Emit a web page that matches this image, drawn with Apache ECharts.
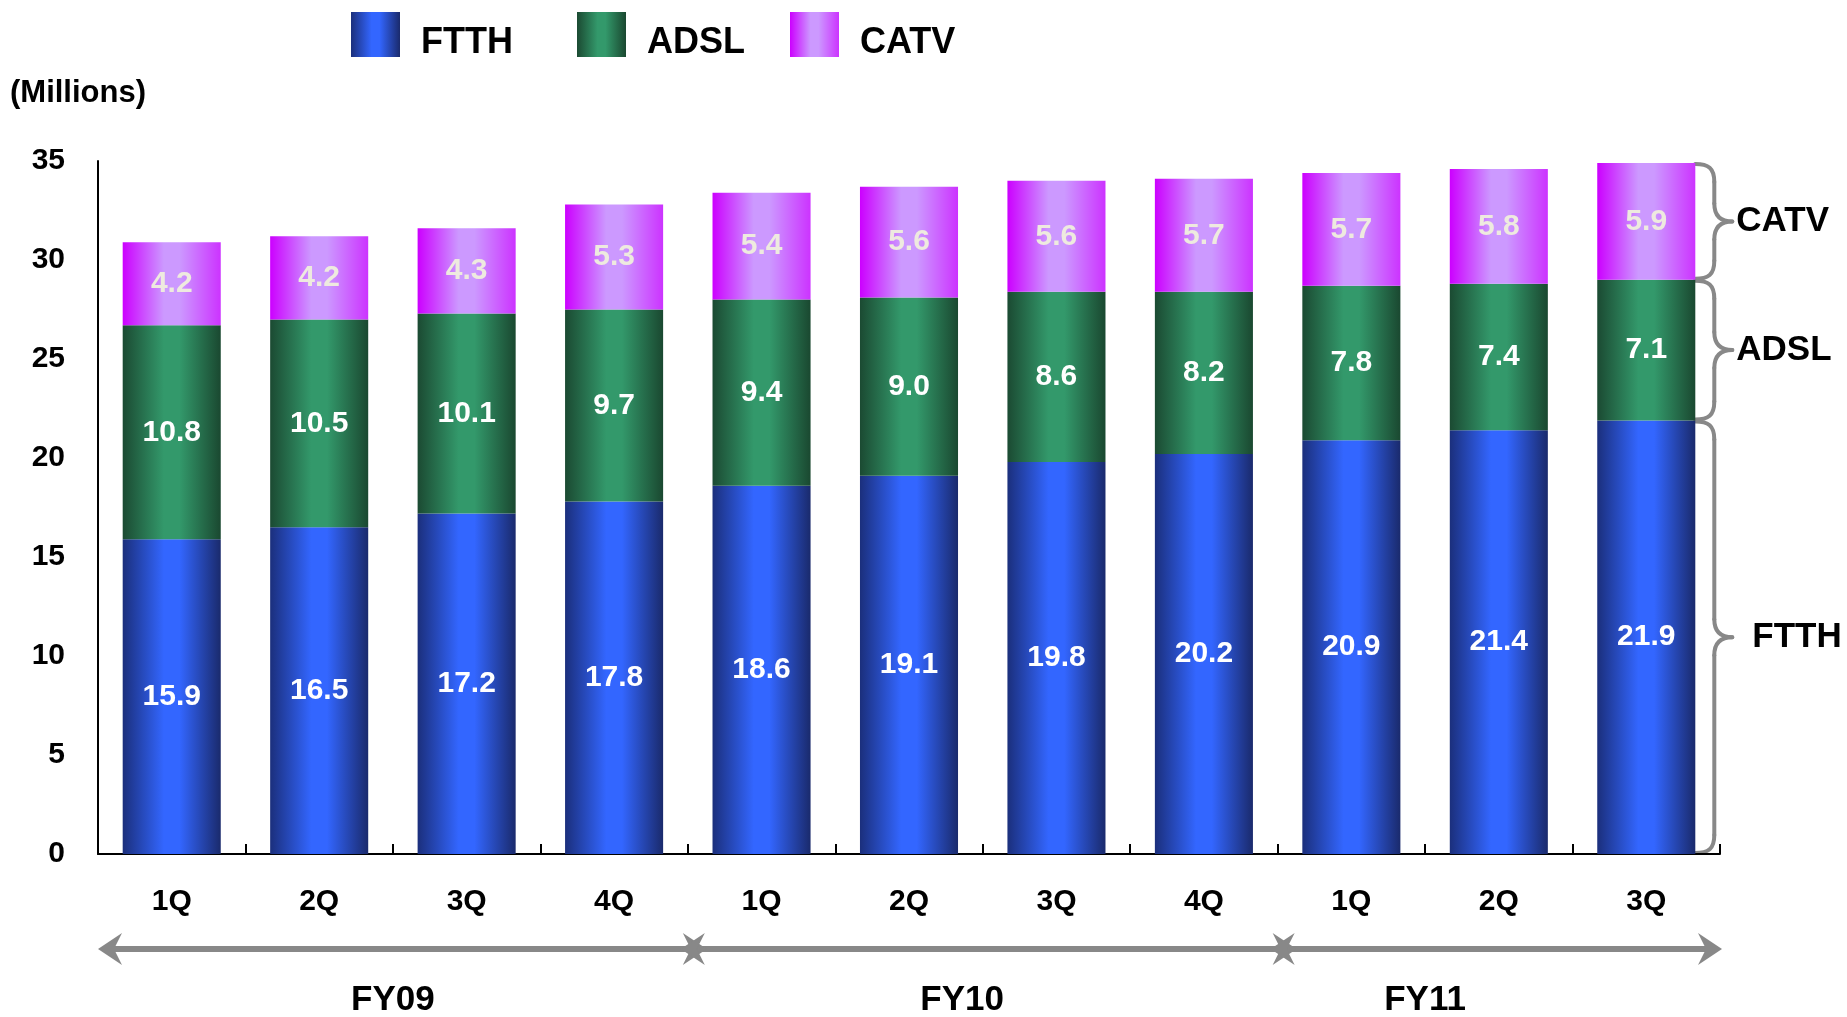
<!DOCTYPE html>
<html>
<head>
<meta charset="utf-8">
<title>Broadband subscribers by access type</title>
<script src="https://cdn.jsdelivr.net/npm/echarts@6/dist/echarts.min.js"></script>
<style>
  html, body { margin: 0; padding: 0; background: #fff; }
  #chart { width: 1847px; height: 1017px; }
</style>
</head>
<body>
<div id="chart"></div>
<script>
// Quarterly subscribers, millions
const quarters = ['1Q', '2Q', '3Q', '4Q', '1Q', '2Q', '3Q', '4Q', '1Q', '2Q', '3Q'];
const ftth = [15.9, 16.5, 17.2, 17.8, 18.6, 19.1, 19.8, 20.2, 20.9, 21.4, 21.9];
const adsl = [10.8, 10.5, 10.1, 9.7, 9.4, 9.0, 8.6, 8.2, 7.8, 7.4, 7.1];
const catv = [4.2, 4.2, 4.3, 5.3, 5.4, 5.6, 5.6, 5.7, 5.7, 5.8, 5.9];
// Fiscal years: name, first quarter index, number of quarters
const fiscalYears = ['FY09', 'FY10', 'FY11'];
const fyStart = [0, 4, 8];
const fyCount = [4, 4, 3];
const yTicks = [0, 5, 10, 15, 20, 25, 30, 35];

const FONT = '"Liberation Sans", Arial, Helvetica, sans-serif';
const GRAY = '#888888';

function barGradient(edgeL, mid, edgeR) {
  return {
    type: 'linear', x: 0, y: 0, x2: 1, y2: 0,
    colorStops: [
      { offset: 0, color: edgeL },
      { offset: 0.42, color: mid },
      { offset: 0.58, color: mid },
      { offset: 1, color: edgeR }
    ]
  };
}
const ftthFill = barGradient('#1b2f7c', '#3366ff', '#1a2a6c');
const adslFill = barGradient('#1b4a32', '#33996b', '#1a4830');
const catvFill = barGradient('#cc00ff', '#cc99ff', '#cc33ff');

const chart = echarts.init(document.getElementById('chart'), null, { renderer: 'canvas' });

function labelCfg(color) {
  return {
    show: true,
    position: 'inside',
    color: color,
    fontFamily: FONT,
    fontSize: 30,
    fontWeight: 'bold',
    formatter: p => p.value.toFixed(1)
  };
}

function legendCfg(name, left) {
  return {
    data: [name],
    left: left,
    top: 12,
    padding: 0,
    icon: 'rect',
    itemWidth: 49,
    itemHeight: 45,
    selectedMode: false,
    formatter: n => '{t|' + n + '}',
    textStyle: {
      fontFamily: FONT, fontSize: 36, fontWeight: 'bold', color: '#000',
      rich: {
        t: { fontFamily: FONT, fontSize: 36, fontWeight: 'bold', color: '#000',
             padding: [18, 0, 0, 16] }
      }
    }
  };
}

chart.setOption({
  animation: false,
  backgroundColor: '#fff',
  legend: [legendCfg('FTTH', 351), legendCfg('ADSL', 577), legendCfg('CATV', 790)],
  grid: { left: 98, right: 127, top: 161, bottom: 163 },
  xAxis: {
    type: 'category',
    data: quarters,
    axisLine: { lineStyle: { color: '#000', width: 2 } },
    axisTick: { show: true, inside: true, length: 10, lineStyle: { color: '#000', width: 2 } },
    axisLabel: { margin: 33, fontFamily: FONT, fontSize: 30, fontWeight: 'bold', color: '#000' },
    splitLine: { show: false }
  },
  yAxis: {
    type: 'value',
    min: yTicks[0],
    max: yTicks[yTicks.length - 1],
    interval: yTicks[1] - yTicks[0],
    axisLine: { show: true, lineStyle: { color: '#000', width: 2 } },
    axisTick: { show: false },
    axisLabel: { margin: 33, fontFamily: FONT, fontSize: 30, fontWeight: 'bold', color: '#000' },
    splitLine: { show: false }
  },
  series: [
    { name: 'FTTH', type: 'bar', stack: 'total', data: ftth, barCategoryGap: '33.5%',
      itemStyle: { color: ftthFill }, label: labelCfg('#ffffff') },
    { name: 'ADSL', type: 'bar', stack: 'total', data: adsl,
      itemStyle: { color: adslFill }, label: labelCfg('#ffffff') },
    { name: 'CATV', type: 'bar', stack: 'total', data: catv,
      itemStyle: { color: catvFill }, label: labelCfg('#eeeadf') }
  ]
});

// Annotations placed from the axis scales: unit label, brace callouts, fiscal-year arrows
const px = i => chart.convertToPixel({ xAxisIndex: 0 }, i);
const py = v => chart.convertToPixel({ yAxisIndex: 0 }, v);
const step = px(1) - px(0);
const axisLeft = px(0) - step / 2;
const atCat = u => axisLeft + u * step;   // u measured in category widths from the left edge

const graphics = [];

graphics.push({
  type: 'text', x: 10, y: 93,
  style: { text: '(Millions)', fontFamily: FONT, fontSize: 31, fontWeight: 'bold', fill: '#000',
           textAlign: 'left', textVerticalAlign: 'middle' }
});

// Braces beside the last bar
const last = quarters.length - 1;
const barRight = px(last) + step * (1 - 0.335) / 2;
const lastF = ftth[last], lastA = adsl[last], lastC = catv[last];
const braceSpans = [
  { name: 'CATV', from: lastF + lastA + lastC, to: lastF + lastA, gap: 4 },
  { name: 'ADSL', from: lastF + lastA, to: lastF, gap: 4 },
  { name: 'FTTH', from: lastF, to: 0, gap: 20 }
];
const braceStyle = { fill: null, stroke: GRAY, lineWidth: 4, lineCap: 'round' };
function curve(x1, y1, c1x, c1y, c2x, c2y, x2, y2) {
  return {
    type: 'bezierCurve',
    shape: { x1: x1, y1: y1, cpx1: c1x, cpy1: c1y, cpx2: c2x, cpy2: c2y, x2: x2, y2: y2 },
    style: braceStyle
  };
}
function seg(x1, y1, x2, y2) {
  return { type: 'line', shape: { x1: x1, y1: y1, x2: x2, y2: y2 }, style: braceStyle };
}
braceSpans.forEach(b => {
  const y0 = py(b.from) + 1, y1 = py(b.to) - 1, ym = (y0 + y1) / 2;
  const x0 = barRight, xs = x0 + 19, xp = x0 + 37;
  const r = Math.min(18, (y1 - y0) / 4);
  graphics.push(curve(x0, y0, xs - 6, y0, xs, y0 + 4, xs, y0 + r));
  graphics.push(seg(xs, y0 + r, xs, ym - r));
  graphics.push(curve(xs, ym - r, xs, ym - 5, xs + 7, ym, xp, ym));
  graphics.push(curve(xp, ym, xs + 7, ym, xs, ym + 5, xs, ym + r));
  graphics.push(seg(xs, ym + r, xs, y1 - r));
  graphics.push(curve(xs, y1 - r, xs, y1 - 4, xs - 6, y1, x0, y1));
  graphics.push({
    type: 'text', x: xp + b.gap, y: ym,
    style: { text: b.name, fontFamily: FONT, fontSize: 35, fontWeight: 'bold', fill: '#000',
             textAlign: 'left', textVerticalAlign: 'middle' }
  });
});

// Fiscal-year arrows under the category labels
const arrowY = 949;
const headLen = 24, headHalf = 16, notch = 8;
function head(tipX, dir) {
  return {
    type: 'polygon',
    shape: { points: [
      [tipX, arrowY],
      [tipX - dir * headLen, arrowY - headHalf],
      [tipX - dir * (headLen - notch), arrowY],
      [tipX - dir * headLen, arrowY + headHalf]
    ] },
    style: { fill: GRAY }
  };
}
const xStart = atCat(0), xEnd = atCat(quarters.length) + 2;
graphics.push({
  type: 'line',
  shape: { x1: xStart + 8, y1: arrowY, x2: xEnd - 8, y2: arrowY },
  style: { stroke: GRAY, lineWidth: 6 }
});
graphics.push(head(xStart, -1));
graphics.push(head(xEnd, 1));
for (let k = 1; k < fiscalYears.length; k++) {
  const b = atCat(fyStart[k]) + 6;
  graphics.push(head(b + 13, 1));
  graphics.push(head(b - 13, -1));
}
const fyLabelAt = [2, 5.86, 9];
fiscalYears.forEach((fy, k) => {
  graphics.push({
    type: 'text', x: atCat(fyLabelAt[k]), y: 1000,
    style: { text: fy, fontFamily: FONT, fontSize: 35, fontWeight: 'bold', fill: '#000',
             textAlign: 'center', textVerticalAlign: 'middle' }
  });
});

chart.setOption({ graphic: graphics });
</script>
</body>
</html>
